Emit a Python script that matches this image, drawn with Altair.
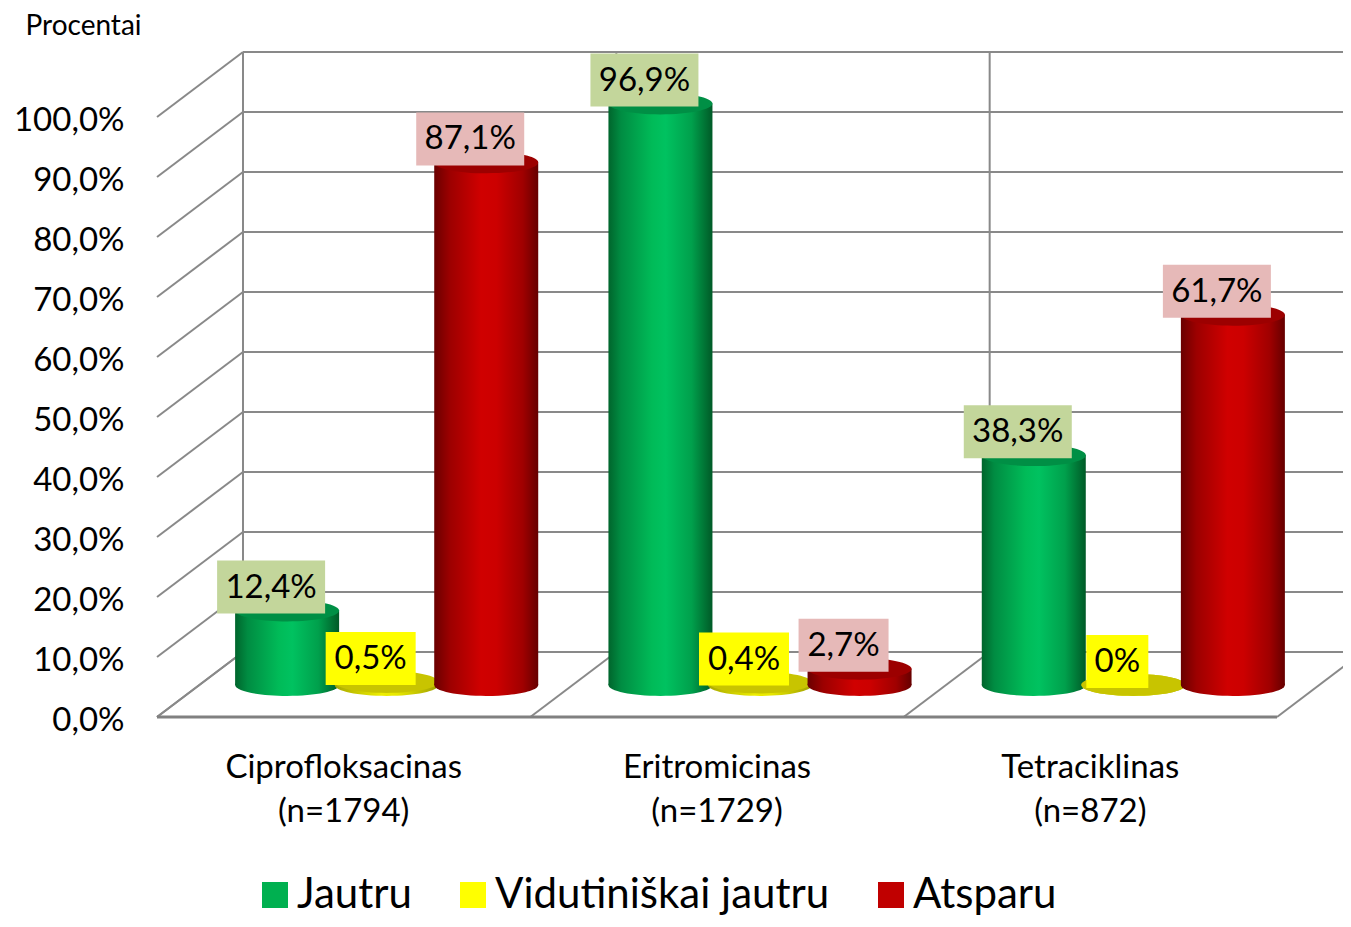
import altair as alt
import pandas as pd

# ---------------- data ----------------
categories = ["Ciprofloksacinas\n(n=1794)", "Eritromicinas\n(n=1729)", "Tetraciklinas\n(n=872)"]
series = ["Jautru", "Vidutiniškai jautru", "Atsparu"]
jautru = [12.4, 96.9, 38.3]
vidutiniskai_jautru = [0.5, 0.4, 0.0]
atsparu = [87.1, 2.7, 61.7]
y_ticks = [0, 10, 20, 30, 40, 50, 60, 70, 80, 90, 100]
category_edges = [0, 1, 2, 3]

rows = []
for i, c in enumerate(categories):
    for s, vals in zip(series, [jautru, vidutiniskai_jautru, atsparu]):
        v = vals[i]
        lab = "0%" if v == 0 else f"{v:.1f}".replace(".", ",") + "%"
        rows.append({"cat": c, "series": s, "v": v, "label": lab, "nchar": str(len(lab))})
df = pd.DataFrame(rows)
ticks_df = pd.DataFrame({"t": y_ticks})
edges_df = pd.DataFrame({"b": category_edges})

# ---------------- styling ----------------
FONT = "Lato"
W, H = 1120, 600
BACK_DX, BACK_DY = 43, -33      # back wall offset from bar plane
FRONT_DX, FRONT_DY = -43, 32    # front edge offset from bar plane
GRID = "#898989"

legend_colors = ["#00b050", "#ffff00", "#c00000"]
box_colors = ["#c3d69b", "#ffff00", "#e6b9b8"]

def grad(stops):
    return alt.LinearGradient(
        gradient="linear", x1=0, x2=1, y1=0, y2=0,
        stops=[alt.GradientStop(offset=o, color=c) for o, c in stops])

green_grad = grad([(0, "#00652c"), (0.12, "#008c42"), (0.42, "#00bb58"), (0.55, "#00c260"),
                   (0.8, "#00a04c"), (1, "#005a27")])
yellow_grad = grad([(0, "#a8a800"), (0.45, "#eeee00"), (0.6, "#e8e800"), (1, "#a0a000")])
red_grad = grad([(0, "#6a0000"), (0.15, "#9c0000"), (0.45, "#d00000"), (0.6, "#cc0000"),
                 (0.85, "#a00000"), (1, "#660000")])
top_colors = {"Jautru": "#008f45", "Vidutiniškai jautru": "#c8c400", "Atsparu": "#9c0000"}
grads = {"Jautru": green_grad, "Vidutiniškai jautru": yellow_grad, "Atsparu": red_grad}

BAR_W = 104
r, k = 0.21, 0.5523
ELLIPSE = (f"M -1 0 C -1 {-r*k:.4f} {-k} {-r} 0 {-r} C {k} {-r} 1 {-r*k:.4f} 1 0 "
           f"C 1 {r*k:.4f} {k} {r} 0 {r} C {-k} {r} -1 {r*k:.4f} -1 0 Z")
ELL_SIZE = BAR_W * BAR_W

S = 54.0
BOX_SIZE = (2 * S) ** 2
def box_path(w, dx=-16, top=-50, bot=3):
    x0, x1 = (dx - w / 2) / S, (dx + w / 2) / S
    y0, y1 = top / S, bot / S
    return f"M {x0:.4f} {y0:.4f} L {x1:.4f} {y0:.4f} L {x1:.4f} {y1:.4f} L {x0:.4f} {y1:.4f} Z"
box_shapes = {"5": box_path(108), "4": box_path(90), "2": box_path(62)}

# ---------------- scales / axes ----------------
xscale = alt.Scale(domain=categories, paddingInner=0.2, paddingOuter=0.1)
xoscale = alt.Scale(domain=series, paddingInner=0, paddingOuter=0)
yscale = alt.Scale(domain=[0, 100], nice=False, zero=True)

yaxis = alt.Axis(
    values=y_ticks, labelExpr="replace(format(datum.value, '.1f'), '.', ',') + '%'",
    domain=False, ticks=False, grid=False, labelPadding=76, labelOffset=35,
    labelFont=FONT, labelFontSize=33, labelColor="#000000", labelBaseline="middle",
    title="Procentai", titleAngle=0, titleX=-117, titleY=-59, titleAlign="center",
    titleBaseline="middle", titleFont=FONT, titleFontSize=28, titleFontWeight="normal",
    titleColor="#000000")
xaxis = alt.Axis(
    labelExpr="split(datum.label, '\\n')", labelAngle=0, domain=False, ticks=False,
    grid=False, labelPadding=66, labelOffset=-43, labelLineHeight=44, labelFont=FONT,
    labelFontSize=33, labelColor="#000000", labelBaseline="top", labelLimit=600, title=None)

def X(axis=None):
    return alt.X("cat:N", scale=xscale, axis=axis)
def XO():
    return alt.XOffset("series:N", scale=xoscale)
def Y(field):
    return alt.Y(field, scale=yscale, axis=yaxis, stack=None)
def YD(v):
    return alt.YDatum(v, scale=yscale, axis=yaxis, type="quantitative")

# ---------------- walls ----------------
back_h = alt.Chart(ticks_df).mark_rule(color=GRID, strokeWidth=2, yOffset=BACK_DY).encode(
    y=Y("t:Q"), x=alt.value(BACK_DX), x2=alt.value(1143))
left_diag = alt.Chart(ticks_df).mark_rule(
    color=GRID, strokeWidth=2, yOffset=FRONT_DY, y2Offset=BACK_DY).encode(
    y=Y("t:Q"), y2=alt.Y2("t:Q"), x=alt.value(FRONT_DX), x2=alt.value(BACK_DX))
edge_x = alt.X("b:Q", scale=alt.Scale(domain=[0, 3], nice=False, zero=False), axis=None)
back_v = alt.Chart(edges_df).mark_rule(
    color=GRID, strokeWidth=2, xOffset=BACK_DX, yOffset=BACK_DY, y2Offset=BACK_DY).encode(
    x=edge_x, y=YD(0), y2=alt.Y2Datum(100))
floor_diag = alt.Chart(edges_df).mark_rule(
    color=GRID, strokeWidth=2, xOffset=FRONT_DX, x2Offset=BACK_DX,
    yOffset=FRONT_DY, y2Offset=BACK_DY).encode(
    x=edge_x, x2=alt.X2("b:Q"), y=YD(0), y2=alt.Y2Datum(0))
floor_front = alt.Chart(ticks_df).transform_filter(alt.datum.t == 0).mark_rule(
    color="#808080", strokeWidth=3, yOffset=FRONT_DY).encode(
    y=Y("t:Q"), x=alt.value(FRONT_DX), x2=alt.value(W + FRONT_DX))

# ---------------- cylinders ----------------
def cylinder(name):
    d = alt.Chart(df).transform_filter(alt.datum.series == name)
    bottom = d.mark_point(shape=ELLIPSE, size=ELL_SIZE, filled=True, opacity=1,
                          strokeWidth=0, fill=grads[name]).encode(x=X(), xOffset=XO(), y=YD(0))
    body = d.mark_bar(size=BAR_W, fill=grads[name], strokeWidth=0).encode(
        x=X(), xOffset=XO(), y=Y("v:Q"))
    top = d.mark_point(shape=ELLIPSE, size=ELL_SIZE, filled=True, opacity=1,
                       strokeWidth=0, fill=top_colors[name]).encode(x=X(), xOffset=XO(), y=Y("v:Q"))
    return [bottom, body, top]

cyl_layers = []
for s in series:
    cyl_layers += cylinder(s)

legend_layer = alt.Chart(df).mark_square(opacity=0, size=10).encode(
    x=X(xaxis), xOffset=XO(), y=Y("v:Q"),
    color=alt.Color("series:N", scale=alt.Scale(domain=series, range=legend_colors),
                    legend=alt.Legend(
                        orient="none", legendX=54, legendY=789, direction="horizontal",
                        columns=3, title=None, symbolType="square", symbolSize=676,
                        symbolOpacity=1, symbolStrokeWidth=0, labelFont=FONT,
                        labelFontSize=42, labelColor="#000000", labelOffset=1,
                        columnPadding=40, padding=0, labelLimit=600)))

boxes = alt.Chart(df).mark_point(filled=True, opacity=1, strokeWidth=0, size=BOX_SIZE).encode(
    x=X(), xOffset=XO(), y=Y("v:Q"),
    shape=alt.Shape("nchar:N", scale=alt.Scale(domain=list(box_shapes.keys()),
                                               range=list(box_shapes.values())), legend=None),
    fill=alt.Fill("series:N", scale=alt.Scale(domain=series, range=box_colors), legend=None))
texts = alt.Chart(df).mark_text(dx=-16, dy=-23, font=FONT, fontSize=33, color="#000000",
                                baseline="middle", align="center").encode(
    x=X(), xOffset=XO(), y=Y("v:Q"), text="label:N")

chart = alt.layer(
    back_h, left_diag, back_v, floor_diag, floor_front,
    *cyl_layers, legend_layer, boxes, texts
).resolve_scale(x="independent").properties(
    width=W, height=H,
    autosize=alt.AutoSizeParams(type="none"),
    padding={"left": 192, "top": 77, "right": 23, "bottom": 234},
    background="#ffffff",
).configure(font=FONT).configure_view(stroke="transparent")

chart.save("out.html", embed_options={"renderer": "svg", "actions": False})
